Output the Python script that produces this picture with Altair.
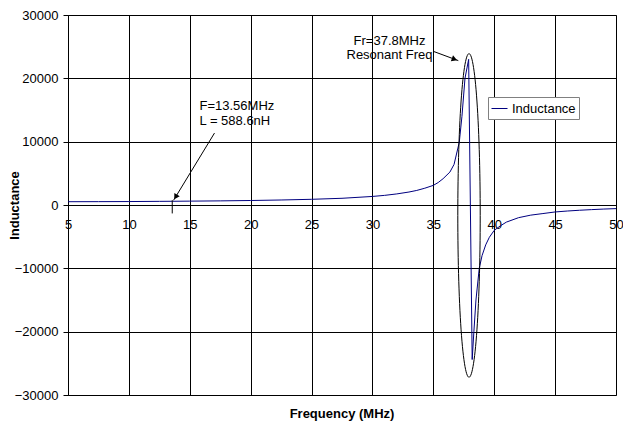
import altair as alt
import pandas as pd
import numpy as np

# Inductance curve
freq = [5, 7.5, 10, 12.5, 13.56, 15, 17.5, 20, 22.5, 25, 27.5, 30, 31, 32, 33, 33.64,
        34.3, 35, 35.4, 35.8, 36.36, 36.7, 37, 37.13, 37.35, 37.6, 37.9,
        38.19, 38.33, 38.5, 38.77, 39.0, 39.3, 39.6, 40, 40.5, 41, 42, 43, 44, 45,
        46, 47, 48, 49, 50]
induct = [520, 530, 545, 575, 589, 610, 650, 710, 790, 900, 1060, 1350, 1520, 1750, 2050, 2300,
          2650, 3100, 3550, 4150, 5200, 6400, 8850, 9900, 14000, 20000, 23000,
          -24400, -20000, -15000, -10000, -8000, -6300, -5100, -4000, -3300, -2700, -2000, -1600, -1350, -1100,
          -950, -830, -730, -640, -570]

x_ticks = [5, 10, 15, 20, 25, 30, 35, 40, 45, 50]
y_ticks = [-30000, -20000, -10000, 0, 10000, 20000, 30000]

curve = pd.DataFrame({"f": freq, "L": induct, "s": ["Inductance"] * len(freq)})

# ellipse round the resonance (centre and semi-axes in data units)
ell_cf, ell_cl, ell_rf, ell_rl = 37.93, -1650, 0.92, 25550
t = np.linspace(0, 2 * np.pi, 121)
ellipse = pd.DataFrame({"f": ell_cf + ell_rf * np.sin(t),
                        "L": ell_cl + ell_rl * np.cos(t),
                        "o": np.arange(len(t))})

arrows = pd.DataFrame({"f": [17.03, 35.0], "L": [11360, 24260],
                       "f2": [13.67, 37.05], "L2": [750, 22800]})
heads = pd.DataFrame({"f": [13.84, 36.74], "L": [1280, 23020], "a": [211, 110]})
marker = pd.DataFrame({"f": [13.56], "L": [750], "L2": [-1330]})

texts = pd.DataFrame({
    "f": [15.8, 15.8, 31.4, 31.4],
    "L": [15600, 13240, 25940, 23750],
    "t": ["F=13.56MHz", "L = 588.6nH", "Fr=37.8MHz", "Resonant Freq"],
    "al": ["left", "left", "center", "center"],
})

FONT = "Liberation Sans"
FS = 13
W, H = 548, 380
xs = alt.Scale(domain=[5, 50], nice=False, zero=False)
ys = alt.Scale(domain=[-30000, 30000], nice=False)

line = alt.Chart(curve).mark_line(strokeWidth=1, clip=True).encode(
    x=alt.X("f:Q", scale=xs, axis=alt.Axis(
        values=x_ticks, title=None, grid=True, gridColor="#000000", gridOpacity=1,
        offset=-H / 2, domainColor="#000000", tickColor="#000000", tickSize=5,
        labelPadding=8, labelFontSize=FS, labelFont=FONT, labelColor="#000000",
        labelFlush=False, labelOverlap=False, format="d")),
    y=alt.Y("L:Q", scale=ys, axis=alt.Axis(
        values=y_ticks, title="Inductance", grid=True, gridColor="#000000", gridOpacity=1,
        domainColor="#000000", tickColor="#000000", tickSize=5, labelPadding=5,
        labelFontSize=FS, labelFont=FONT, labelColor="#000000", titleFont=FONT,
        titleFontSize=FS, titleFontWeight="bold", titleColor="#000000",
        titleX=-54, titleY=H / 2, titleAngle=270, titleAlign="center", titleBaseline="middle",
        labelFlush=False, labelOverlap=False, format="d")),
    color=alt.Color("s:N", scale=alt.Scale(domain=["Inductance"], range=["#000080"]),
                    legend=alt.Legend(title=None, orient="none", legendX=420, legendY=82,
                                      strokeColor="#808080", fillColor="#ffffff", padding=3,
                                      symbolType="stroke", symbolSize=256, symbolStrokeWidth=1,
                                      labelFont=FONT, labelFontSize=FS, labelColor="#000000",
                                      labelOffset=4, cornerRadius=0)),
)

ell = alt.Chart(ellipse).mark_line(color="#000000", strokeWidth=1).encode(
    x=alt.X("f:Q", scale=xs), y=alt.Y("L:Q", scale=ys), order="o:Q")

arr = alt.Chart(arrows).mark_rule(color="#000000", strokeWidth=1).encode(
    x=alt.X("f:Q", scale=xs), y=alt.Y("L:Q", scale=ys), x2="f2:Q", y2="L2:Q")

hd = alt.Chart(heads).mark_point(shape="triangle-up", filled=True, color="#000000",
                                  size=40, opacity=1).encode(
    x=alt.X("f:Q", scale=xs), y=alt.Y("L:Q", scale=ys), angle=alt.Angle("a:Q", scale=None))

mk = alt.Chart(marker).mark_rule(color="#000000", strokeWidth=1).encode(
    x=alt.X("f:Q", scale=xs), y=alt.Y("L:Q", scale=ys), y2="L2:Q")

txt_left = alt.Chart(texts[texts.al == "left"]).mark_text(
    align="left", baseline="middle", font=FONT, fontSize=FS, color="#000000").encode(
    x=alt.X("f:Q", scale=xs), y=alt.Y("L:Q", scale=ys), text="t:N")
txt_center = alt.Chart(texts[texts.al == "center"]).mark_text(
    align="center", baseline="middle", font=FONT, fontSize=FS, color="#000000").encode(
    x=alt.X("f:Q", scale=xs), y=alt.Y("L:Q", scale=ys), text="t:N")

chart = alt.layer(line, ell, arr, hd, mk, txt_left, txt_center).properties(
    width=W, height=H,
    autosize=alt.AutoSizeParams(type="none"),
    padding={"left": 60, "top": 7, "right": 7, "bottom": 28},
    title=alt.TitleParams("Frequency (MHz)", orient="bottom", font=FONT, fontSize=FS,
                          fontWeight="bold", color="#000000", offset=6, anchor="middle"),
    background="#ffffff",
).configure_view(stroke="#808080", strokeWidth=1)

chart.save("out.html", embed_options={"renderer": "svg", "actions": False})
